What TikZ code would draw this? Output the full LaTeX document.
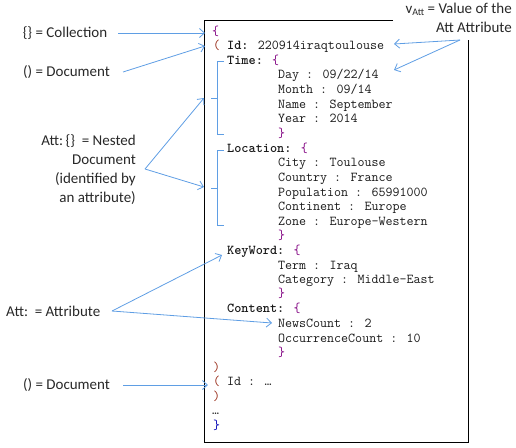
\documentclass[tikz,border=0pt]{standalone}
\usepackage{fontspec}
\setmainfont{Carlito}
\usetikzlibrary{arrows.meta}
\definecolor{arrowblue}{RGB}{95,158,228}
\definecolor{bracepurple}{RGB}{128,0,128}
\definecolor{parenred}{RGB}{150,40,20}
\definecolor{labelgray}{RGB}{40,40,40}
\newcommand{\bp}[1]{\textcolor{bracepurple}{#1}}
\newcommand{\pr}[1]{\textcolor{parenred}{#1}}
\begin{document}
\begin{tikzpicture}[x=1pt,y=-1pt,
  lbl/.style={font=\fontsize{15}{19}\selectfont, inner sep=0pt, text=labelgray},
  code/.style={font=\ttfamily\fontsize{13.6}{15}\selectfont, anchor=west, inner sep=0pt,
    text height=8.5pt, text depth=2.5pt, text=black!90},
  conn/.style={draw=arrowblue, line width=0.8pt, -{Straight Barb[length=5pt,width=9pt]}},
  brk/.style={draw=arrowblue, line width=0.8pt}]
\useasboundingbox (0,0) rectangle (516,447);

% box
\draw[line width=1pt] (393,20) -- (204,20) -- (204,442) -- (468,442) -- (468,40);

% code lines
\node[code] (c1)  at (212,32)  {\bp{\{}};
\node[code] (c2)  at (213,46)  {\pr{(} \textbf{Id:} 220914iraqtoulouse};
\node[code] (c3)  at (227,61)  {\textbf{Time:} \bp{\{}};
\node[code] (c4)  at (278,75)  {Day : 09/22/14};
\node[code] (c5)  at (278,90)  {Month : 09/14};
\node[code] (c6)  at (278,105) {Name : September};
\node[code] (c7)  at (278,119) {Year : 2014};
\node[code] (c8)  at (278,134) {\bp{\}}};
\node[code] (c9)  at (227,149) {\textbf{Location:} \bp{\{}};
\node[code] (c10) at (278,163) {City : Toulouse};
\node[code] (c11) at (278,178) {Country : France};
\node[code] (c12) at (278,193) {Population : 65991000};
\node[code] (c13) at (278,207) {Continent : Europe};
\node[code] (c14) at (278,222) {Zone : Europe-Western};
\node[code] (c15) at (278,236) {\bp{\}}};
\node[code] (c16) at (227,251) {\textbf{KeyWord:} \bp{\{}};
\node[code] (c17) at (278,266) {Term : Iraq};
\node[code] (c18) at (278,280) {Category : Middle-East};
\node[code] (c19) at (278,294) {\bp{\}}};
\node[code] (c20) at (227,309) {\textbf{Content:} \bp{\{}};
\node[code] (c21) at (278,324) {NewsCount : 2};
\node[code] (c22) at (278,339) {OccurrenceCount : 10};
\node[code] (c23) at (278,353) {\bp{\}}};
\node[code] (c24) at (213,368) {\pr{)}};
\node[code] (c25) at (213,382) {\pr{(} Id : \ldots};
\node[code] (c26) at (213,397) {\pr{)}};
\node[code] (c27) at (212,411) {\ldots};
\node[code] (c28) at (213,426) {\textcolor{blue!70!black}{\}}};

% brackets
\draw[brk] (224,61) -- (217,61) -- (217,134) -- (224,134);
\draw[brk] (217,98) -- (211,98);
\draw[brk] (224,150) -- (217,150) -- (217,225) -- (224,225);
\draw[brk] (217,188) -- (211,188);

% labels
\node[lbl] (l1) at (65,33) {\{\} = Collection};
\node[lbl] (l2) at (66.5,72) {() = Document};
\node[lbl, align=right, anchor=east] (l3) at (136,169.5) {Att:\,\{\}\ \ = Nested\\Document\\(identified by\\an attribute)};
\node[lbl, anchor=west] (l4) at (6,311) {Att:\ \ = Attribute};
\node[lbl] (l5) at (66.5,385) {() = Document};
\node[lbl, align=right, anchor=east] (l6) at (512,17.5) {v\raisebox{-0.35ex}{\fontsize{10}{10}\selectfont Att} = Value of the\\Att Attribute};

% connector points
\coordinate (s1) at (118,33);   \coordinate (t1) at (205,33);
\coordinate (s2) at (123,72);   \coordinate (t2) at (205,46);
\coordinate (s3) at (145,169);  \coordinate (t3a) at (204,98); \coordinate (t3b) at (204,187);
\coordinate (s4) at (112,311);  \coordinate (t4a) at (222,255); \coordinate (t4b) at (272,323);
\coordinate (s5) at (123,385);  \coordinate (t5) at (208,385);
\coordinate (s6) at (460,40);   \coordinate (t6a) at (394,44); \coordinate (t6b) at (394,70);

\draw[conn] (s1) -- (t1);
\draw[conn] (s2) -- (t2);
\draw[conn] (s3) -- (t3a);
\draw[conn] (s3) -- (t3b);
\draw[conn] (s4) -- (t4a);
\draw[conn] (s4) -- (t4b);
\draw[conn] (s5) -- (t5);
\draw[conn] (s6) -- (t6a);
\draw[conn] (s6) -- (t6b);
\end{tikzpicture}
\end{document}
